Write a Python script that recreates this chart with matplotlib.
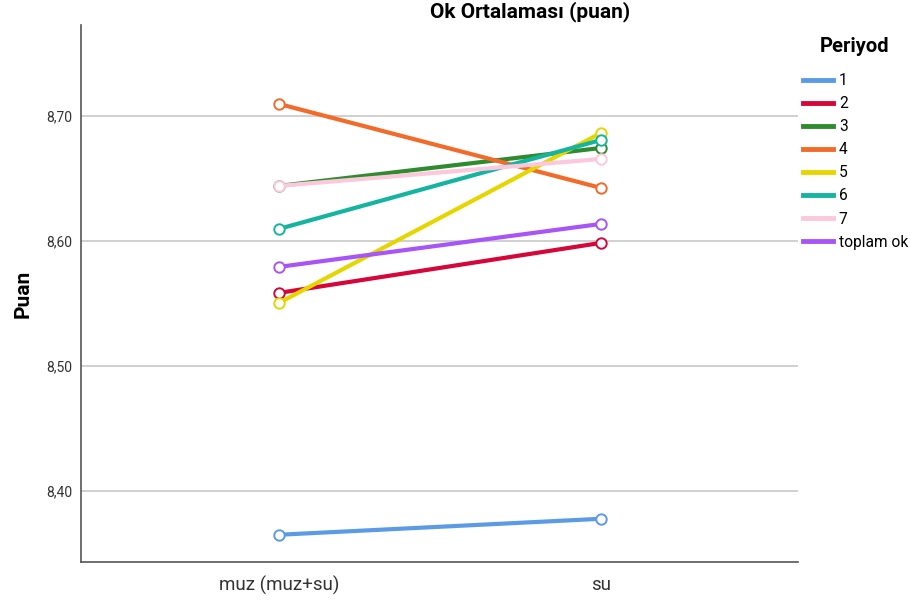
import matplotlib
matplotlib.use("Agg")
import matplotlib.pyplot as plt
from matplotlib.lines import Line2D

categories = ["muz (muz+su)", "su"]
series_names = ["1", "2", "3", "4", "5", "6", "7", "toplam ok"]
series_values = {
    "1": [8.3648, 8.3776],
    "2": [8.5584, 8.5984],
    "3": [8.6440, 8.6744],
    "4": [8.7096, 8.6424],
    "5": [8.5504, 8.6864],
    "6": [8.6096, 8.6808],
    "7": [8.6440, 8.6656],
    "toplam ok": [8.5792, 8.6136],
}
colors = ["#5B9BE6", "#D6053A", "#2E8B2E", "#F26B2A", "#E6D600", "#14B4A0", "#FBC8DC", "#A855F7"]
yticks = [8.40, 8.50, 8.60, 8.70]
ytick_labels = ["8,40", "8,50", "8,60", "8,70"]

plt.rcParams['font.family'] = ['Roboto', 'DejaVu Sans']

fig = plt.figure(figsize=(9.1, 6.03), dpi=100)
ax = fig.add_axes([81/910, 41/603, 717/910, 537/603])

xs = list(range(len(categories)))
handles = []
for name, c in zip(series_names, colors):
    ax.plot(xs, series_values[name], color=c, lw=3.0, marker='o', ms=7.5,
            mfc='white', mec=c, mew=1.4, zorder=3)
    handles.append(Line2D([0], [0], color=c, lw=3.5))

ax.set_xlim(-0.615, 1.612)
ax.set_ylim(8.343, 8.7728)
ax.set_xticks(xs)
ax.set_xticklabels(categories, fontsize=13.5, color="#333333")
ax.set_yticks(yticks)
ax.set_yticklabels(ytick_labels, fontsize=10, color="#333333")
ax.tick_params(length=0, pad=6)
ax.tick_params(axis='x', pad=10)
ax.grid(axis='y', color='#C8C8C8', lw=1.2, zorder=0)
ax.set_axisbelow(True)
for s in ['top', 'right']:
    ax.spines[s].set_visible(False)
for s in ['left', 'bottom']:
    ax.spines[s].set_color('#555555')
    ax.spines[s].set_linewidth(1.2)
ax.set_ylabel("Puan", fontsize=15, fontweight='bold', labelpad=10)

fig.text(530/910, 1 - 12/603, "Ok Ortalaması (puan)", fontsize=15, fontweight='bold',
         ha='center', va='center')

fig.text(855/910, 1 - 47/603, "Periyod", fontsize=14.5, fontweight='bold',
         ha='center', va='center')

leg = fig.legend(handles, series_names, loc='upper left', bbox_to_anchor=(803/910, 1 - 73/603),
                 frameon=False, fontsize=11.2,
                 handlelength=1.95, handletextpad=0.35, labelspacing=0.52,
                 borderaxespad=0, borderpad=0)

fig.savefig("out.png", dpi=100)
